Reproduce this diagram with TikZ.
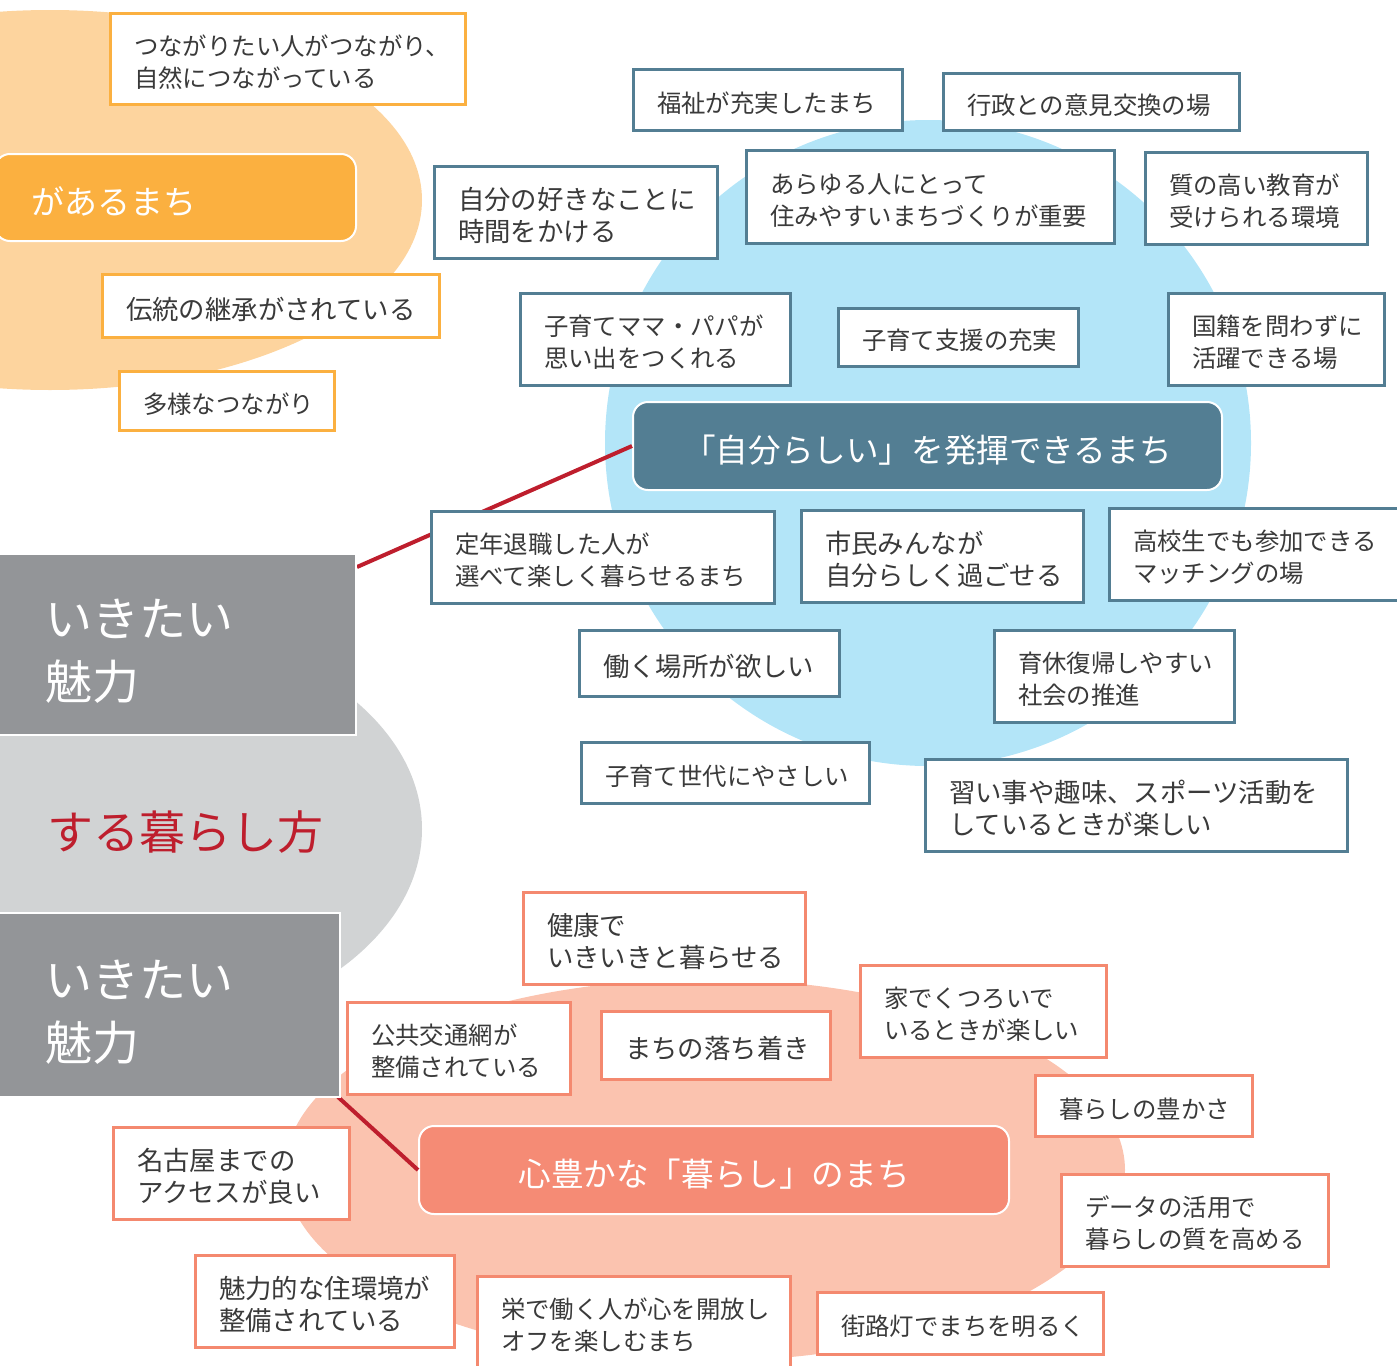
\documentclass[tikz,border=0pt]{standalone}
\usepackage{fontspec}
\setmainfont{Noto Sans CJK JP}
\definecolor{orL}{HTML}{FDD49E}
\definecolor{orD}{HTML}{FBB040}
\definecolor{blL}{HTML}{B3E5F8}
\definecolor{blD}{HTML}{537E93}
\definecolor{grL}{HTML}{D1D3D4}
\definecolor{grD}{HTML}{939598}
\definecolor{rd}{HTML}{BE1E2D}
\definecolor{saL}{HTML}{FBC3AF}
\definecolor{saD}{HTML}{F4896F}
\definecolor{saM}{HTML}{F58B75}
\definecolor{txt}{HTML}{3A3A3A}
\newcommand\bx[7]{%
  \pgfmathsetmacro\bw{(#4-#2)*0.5}%
  \pgfmathsetmacro\bh{(#5-#3)*0.5}%
  \pgfmathsetmacro\tw{(#4-#2)*0.5-24}%
  \node[minimum width=\bw pt, minimum height=\bh pt, text width=\tw pt, #6] (#1) at ({(#2+#4)/2},{(#3+#5)/2}) {#7};}
\tikzset{
  box/.style={draw, line width=1.5pt, fill=white, text=txt, align=left, inner xsep=12pt, inner ysep=0pt,
    font=\fontsize{12.2}{16}\selectfont, execute at begin node={\rule{0pt}{1.13em}}},
  big/.style={font=\fontsize{13.2}{16}\selectfont},
  obox/.style={box, draw=orD},
  bbox/.style={box, draw=blD},
  sbox/.style={box, draw=saD},
  mainbox/.style={draw=white, line width=1pt, rounded corners=7.5pt, text=white, font=\fontsize{16.3}{20}\selectfont,
    align=center, inner xsep=0pt, inner ysep=0pt, execute at begin node={\rule{0pt}{1.07em}}},
  graybox/.style={fill=grD, draw=white, line width=1pt, text=white, font=\fontsize{23.5}{31.5}\selectfont,
    align=left, inner xsep=0pt, inner ysep=0pt, execute at begin node={\rule{0pt}{1.09em}}},
  link/.style={draw=rd, line width=2pt}
}
\begin{document}
\begin{tikzpicture}[x=0.5pt,y=-0.5pt]
\useasboundingbox (0,0) rectangle (1397,1365);
\clip (0,0) rectangle (1397,1365);
% background shapes
\fill[orL] (50,200) ellipse [x radius=372, y radius=190];
\fill[blL] (928,443) circle [radius=323];
\fill[grL] (100,829) ellipse [x radius=322, y radius=210];
\fill[saL] (705,1170) ellipse [x radius=420, y radius=191];

% main boxes
\bx{omain}{-5}{154}{356}{241}{mainbox, fill=orD, text width=143.5pt, align=left, font=\fontsize{16.5}{20}\selectfont}{があるまち}
\bx{bmain}{633}{402}{1222}{490}{mainbox, fill=blD}{「自分らしい」を発揮できるまち}
\bx{smain}{419}{1126}{1009}{1214}{mainbox, fill=saM}{心豊かな「暮らし」のまち}

% connectors
\coordinate (l1s) at (357,567);
\draw[link] (l1s) -- (bmain.west);
\coordinate (l2s) at (338,1097);
\draw[link] (l2s) -- (smain.west);

% gray boxes
\bx{g1}{-5}{554}{356}{735}{graybox, text width=130.5pt}{いきたい\\魅力}
\bx{g2}{-5}{913}{340}{1097}{graybox, text width=122.5pt}{いきたい\\魅力}
\node[text=rd, font=\fontsize{23}{28}\selectfont, anchor=west, inner sep=0pt] (t1) at (47,832) {する暮らし方};

% orange group
\bx{o1}{110}{13}{465}{104}{obox}{つながりたい人がつながり、\\自然につながっている}
\bx{o3}{102}{274}{439}{337}{obox, big}{伝統の継承がされている}
\bx{o4}{119}{371}{334}{430}{obox}{多様なつながり}

% blue group
\bx{b1}{633}{69}{902}{130}{bbox}{福祉が充実したまち}
\bx{b2}{943}{73}{1239}{130}{bbox}{行政との意見交換の場}
\bx{b3}{434}{166}{717}{258}{bbox, big}{自分の好きなことに\\時間をかける}
\bx{b4}{746}{150}{1114}{243}{bbox}{あらゆる人にとって\\住みやすいまちづくりが重要}
\bx{b5}{1145}{152}{1367}{244}{bbox}{質の高い教育が\\受けられる環境}
\bx{b6}{520}{293}{790}{385}{bbox}{子育てママ・パパが\\思い出をつくれる}
\bx{b7}{838}{308}{1078}{366}{bbox}{子育て支援の充実}
\bx{b8}{1168}{293}{1384}{385}{bbox}{国籍を問わずに\\活躍できる場}
\bx{b9}{431}{511}{774}{603}{bbox}{定年退職した人が\\選べて楽しく暮らせるまち}
\bx{b10}{801}{510}{1083}{602}{bbox, big}{市民みんなが\\自分らしく過ごせる}
\bx{b11}{1109}{508}{1405}{600}{bbox}{高校生でも参加できる\\マッチングの場}
\bx{b12}{579}{630}{839}{696}{bbox, big}{働く場所が欲しい}
\bx{b13}{994}{630}{1234}{722}{bbox}{育休復帰しやすい\\社会の推進}
\bx{b14}{581}{742}{869}{803}{bbox}{子育て世代にやさしい}
\bx{b15}{925}{759}{1347}{851}{bbox, big}{習い事や趣味、スポーツ活動を\\しているときが楽しい}

% salmon group
\bx{s1}{523}{892}{805}{984}{sbox, big}{健康で\\いきいきと暮らせる}
\bx{s2}{347}{1002}{570}{1094}{sbox}{公共交通網が\\整備されている}
\bx{s3}{601}{1011}{830}{1079}{sbox, big}{まちの落ち着き}
\bx{s4}{860}{965}{1106}{1057}{sbox}{家でくつろいで\\いるときが楽しい}
\bx{s5}{1035}{1075}{1252}{1136}{sbox}{暮らしの豊かさ}
\bx{s6}{1061}{1174}{1328}{1266}{sbox}{データの活用で\\暮らしの質を高める}
\bx{s7}{113}{1127}{349}{1219}{sbox, big}{名古屋までの\\アクセスが良い}
\bx{s8}{195}{1255}{454}{1347}{sbox, big}{魅力的な住環境が\\整備されている}
\bx{s9}{477}{1276}{790}{1368}{sbox}{栄で働く人が心を開放し\\オフを楽しむまち}
\bx{s10}{817}{1292}{1103}{1354}{sbox}{街路灯でまちを明るく}
\end{tikzpicture}
\end{document}
